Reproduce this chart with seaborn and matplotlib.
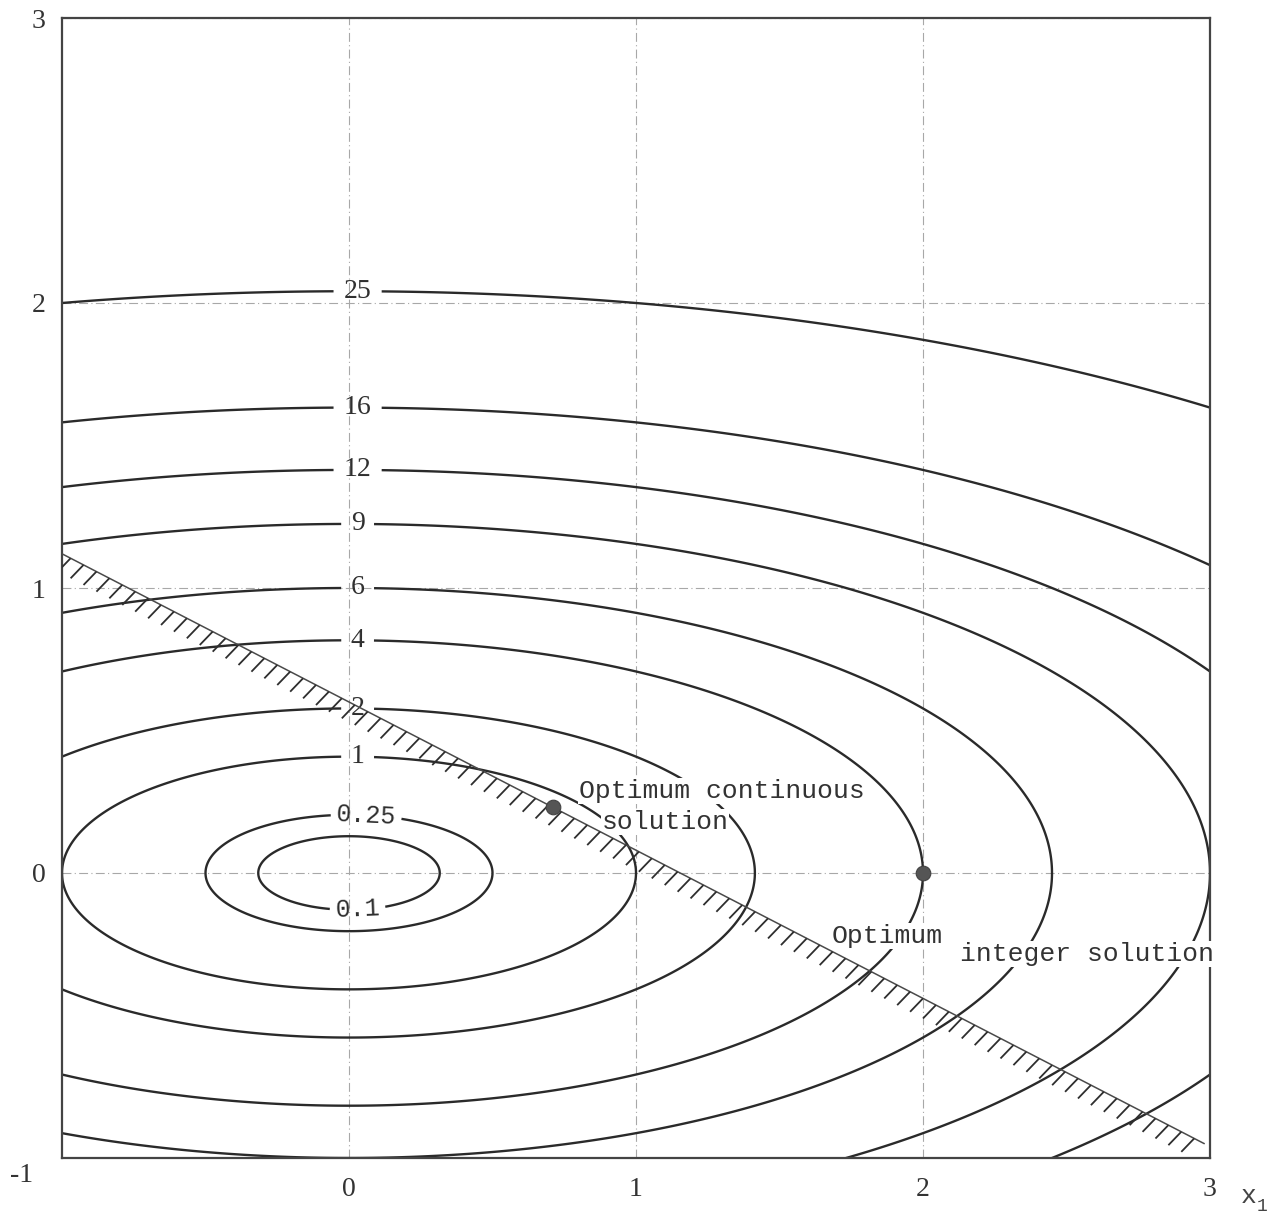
import numpy as np
import pandas as pd
import matplotlib
matplotlib.use("Agg")
import matplotlib.pyplot as plt
from matplotlib.collections import LineCollection
import seaborn as sns

coef_x1 = 1.0
coef_x2 = 6.0
niveles = [0.1, 0.25, 1, 2, 4, 6, 9, 12, 16, 25]
etiquetas = ["0.1", "0.25", "1", "2", "4", "6", "9", "12", "16", "25"]

# Restriccion x2 = c0 + c1*x1, region no factible debajo
c0 = 0.6
c1 = -0.52

# Soluciones
opt_cont = (0.71, 0.23)
opt_ent = (2.0, 0.0)

sns.set_style("white")
plt.rcParams['font.family'] = ['Liberation Serif', 'DejaVu Sans']

fig = plt.figure(figsize=(12.74, 12.16), dpi=100)
ax = fig.add_axes([62 / 1274, 1 - 1158 / 1216, 1148 / 1274, 1140 / 1216])

#Contornos
x1 = np.linspace(-1.2, 3.2, 700)
x2 = np.linspace(-1.2, 3.2, 700)
X, Y = np.meshgrid(x1, x2)
Z = coef_x1 * X ** 2 + coef_x2 * Y ** 2
cs = ax.contour(X, Y, Z, levels=niveles, colors='#2a2a2a', linewidths=1.7, zorder=2)

# posiciones de las etiquetas sobre cada curva (cerca de x1 = 0)
lugares = []
for lv in niveles:
    lado = -1 if lv == 0.1 else 1
    dx = 0.06 if lv == 0.25 else 0.03
    lugares.append((dx, lado * np.sqrt(lv / coef_x2)))
txts = ax.clabel(cs, niveles, fmt=dict(zip(niveles, etiquetas)), manual=lugares,
                 inline=True, inline_spacing=8, fontsize=20, colors='#2e2e2e')
for t in txts:
    if '.' in t.get_text():
        t.set_fontfamily('Liberation Mono')
        t.set_fontsize(18)

#Restriccion con sombreado
xs = np.linspace(-1, 2.98, 200)
recta = c0 + c1 * xs
df = pd.DataFrame({'x1': xs, 'x2': recta})
sns.lineplot(data=df, x='x1', y='x2', color='#4a4a4a', lw=1.1, ax=ax, zorder=4)
xt = np.arange(-0.97, 2.96, 0.045)
yt = c0 + c1 * xt
segs = [[(a, b), (a - 0.045, b - 0.047)] for a, b in zip(xt, yt)]
ax.add_collection(LineCollection(segs, colors='#2e2e2e', linewidths=1.3, zorder=4))

#Puntos optimos
pts = pd.DataFrame({'x1': [opt_cont[0], opt_ent[0]], 'x2': [opt_cont[1], opt_ent[1]]})
sns.scatterplot(data=pts, x='x1', y='x2', color='#555555', s=110, edgecolor='#444444',
                ax=ax, zorder=5)

#Textos
caja = dict(facecolor='white', edgecolor='none', pad=0.5)
mono = 'Liberation Mono'
ax.text(0.80, 0.288, "Optimum continuous", family=mono, fontsize=19, ha='left',
        va='center', color='#333333', bbox=caja, zorder=3)
ax.text(0.88, 0.179, "solution", family=mono, fontsize=19, ha='left',
        va='center', color='#333333', bbox=caja, zorder=3)
ax.text(1.68, -0.221, "Optimum", family=mono, fontsize=19, ha='left',
        va='center', color='#333333', bbox=caja, zorder=3)
ax.text(2.13, -0.284, "integer solution", family=mono, fontsize=19, ha='left',
        va='center', color='#333333', bbox=caja, zorder=3)

#Ejes
ax.set_xlim(-1, 3)
ax.set_ylim(-1, 3)
ax.set_xticks([0, 1, 2, 3])
ax.set_yticks([0, 1, 2, 3])
ax.tick_params(length=0, labelsize=20, colors='#333333')
ax.tick_params(axis='x', pad=14)
ax.tick_params(axis='y', pad=12)
ax.set_xlabel("")
ax.set_ylabel("")
ax.grid(True, color='#a8a8a8', lw=0.8, linestyle=(0, (8, 3, 1, 3)))
for s in ax.spines.values():
    s.set_color('#444444')
    s.set_linewidth(1.6)
ax.text(-1.14, -1.06, "-1", fontsize=20, ha='center', va='center', color='#333333',
        clip_on=False)
ax.text(3.136, -1.133, "x", family=mono, fontsize=19, ha='center', va='center',
        color='#444444', clip_on=False)
ax.text(3.18, -1.17, "1", family=mono, fontsize=13, ha='center', va='center',
        color='#444444', clip_on=False)

plt.savefig("out.png", dpi=100)
